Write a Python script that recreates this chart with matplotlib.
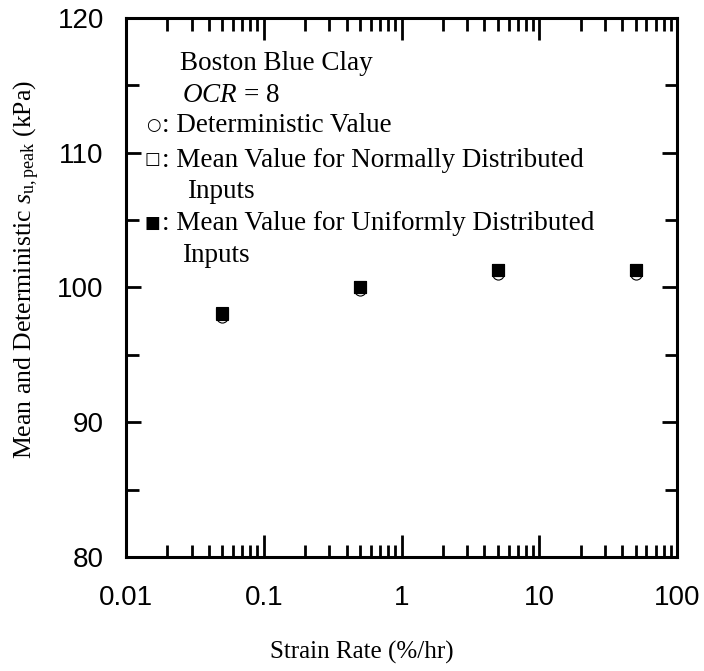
import numpy as np
import matplotlib
matplotlib.use('Agg')
import matplotlib.pyplot as plt
from matplotlib.ticker import LogLocator, NullFormatter, FixedLocator

# Datos
strain_rate = [0.05, 0.5, 5, 50]
deterministic = [97.8, 99.8, 101.0, 101.0]
mean_normal = [98.0, 100.0, 101.3, 101.3]
mean_uniform = [98.1, 100.0, 101.3, 101.3]

x_ticks = [0.01, 0.1, 1, 10, 100]
x_tick_labels = ['0.01', '0.1', '1', '10', '100']
y_ticks = [80, 90, 100, 110, 120]
y_minor = [85, 95, 105, 115]

serif = 'Liberation Serif'
sans = 'Liberation Sans'

plt.rcParams['mathtext.fontset'] = 'custom'
plt.rcParams['mathtext.it'] = 'Liberation Serif:italic'
plt.rcParams['mathtext.rm'] = 'Liberation Serif'

fig = plt.figure(figsize=(7.04, 6.71), dpi=100)
ax = fig.add_axes([126 / 704, 1 - 557 / 671, (677 - 126) / 704, (557 - 18) / 671])

ax.plot(strain_rate, deterministic, 'o', ms=8, mfc='white', mec='black', mew=0.8)
ax.plot(strain_rate, mean_normal, 's', ms=8.5, mfc='white', mec='black', mew=0.8)
ax.plot(strain_rate, mean_uniform, 's', ms=8.5, mfc='black', mec='black', mew=0.8)

ax.set_xscale('log')
ax.set_xlim(0.01, 100)
ax.set_ylim(80, 120)
ax.set_xticks(x_ticks)
ax.set_xticklabels(x_tick_labels)
ax.xaxis.set_minor_locator(LogLocator(base=10, subs=np.arange(2, 10)))
ax.xaxis.set_minor_formatter(NullFormatter())
ax.set_yticks(y_ticks)
ax.yaxis.set_minor_locator(FixedLocator(y_minor))

for s in ax.spines.values():
    s.set_linewidth(2.2)
ax.tick_params(axis='x', which='major', direction='in', length=16, width=2, top=True,
               labelsize=20, pad=20)
ax.tick_params(axis='x', which='minor', direction='in', length=9, width=2, top=True)
ax.tick_params(axis='y', which='major', direction='in', length=11, width=2, right=True,
               labelsize=20, pad=16)
ax.tick_params(axis='y', which='minor', direction='in', length=9, width=2, right=True)
for lab in ax.get_xticklabels() + ax.get_yticklabels():
    lab.set_fontfamily(sans)

ax.set_xlabel('Strain Rate (%/hr)', fontsize=18, fontfamily=serif)
ax.xaxis.set_label_coords(0.428, -0.155)
ax.set_ylabel(r'Mean and Deterministic $s_{\mathrm{u,peak}}$ (kPa)', fontsize=18.5,
              fontfamily=serif)
ax.yaxis.set_label_coords(-0.152, 0.534)

# Leyenda como texto
fs = 19.5
tx = dict(fontsize=fs, fontfamily=serif, transform=ax.transAxes, va='baseline')
sym = dict(transform=ax.transAxes, va='center', ha='center', fontfamily='DejaVu Sans')
ax.text(0.098, 0.9035, 'Boston Blue Clay', **tx)
ax.text(0.102, 0.844, r'$OCR$ = 8', **tx)
ax.text(0.049, 0.802, '\u25cb', fontsize=12, **sym)
ax.text(0.065, 0.7885, ': Deterministic Value', **tx)
ax.text(0.047, 0.738, '\u25a1', fontsize=12, **sym)
ax.text(0.065, 0.7236, ': Mean Value for Normally Distributed', **tx)
ax.text(0.111, 0.666, 'Inputs', **tx)
ax.text(0.047, 0.620, '\u25a0', fontsize=12, **sym)
ax.text(0.065, 0.6067, ': Mean Value for Uniformly Distributed', **tx)
ax.text(0.102, 0.5473, 'Inputs', **tx)

fig.savefig('out.png', dpi=100)
